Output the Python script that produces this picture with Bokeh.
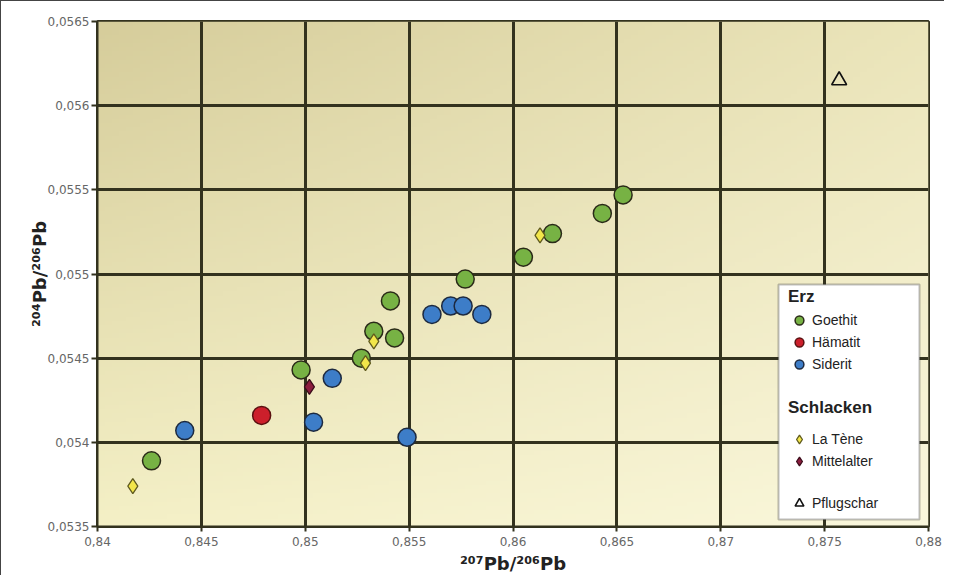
import numpy as np
from bokeh.plotting import figure
from bokeh.models import Range1d, FixedTicker, Legend, LegendItem, BoxAnnotation
from bokeh.embed import file_html
from bokeh.resources import INLINE

# ---- data ----
x_ticks = [0.84, 0.845, 0.85, 0.855, 0.86, 0.865, 0.87, 0.875, 0.88]
x_tick_labels = ["0,84", "0,845", "0,85", "0,855", "0,86", "0,865", "0,87", "0,875", "0,88"]
y_ticks = [0.0535, 0.054, 0.0545, 0.055, 0.0555, 0.056, 0.0565]
y_tick_labels = ["0,0535", "0,054", "0,0545", "0,055", "0,0555", "0,056", "0,0565"]

goethit_x = [0.8426, 0.8498, 0.8527, 0.8533, 0.8543, 0.8541, 0.8577, 0.8605, 0.8619, 0.8643, 0.8653]
goethit_y = [0.05389, 0.05443, 0.05450, 0.05466, 0.05462, 0.05484, 0.05497, 0.05510, 0.05524, 0.05536, 0.05547]
haematit_x = [0.8479]
haematit_y = [0.05416]
siderit_x = [0.8442, 0.8504, 0.8513, 0.8549, 0.8561, 0.8570, 0.8576, 0.8585]
siderit_y = [0.05407, 0.05412, 0.05438, 0.05403, 0.05476, 0.05481, 0.05481, 0.05476]
latene_x = [0.8417, 0.8529, 0.8533, 0.8613]
latene_y = [0.05374, 0.05447, 0.05460, 0.05523]
mittelalter_x = [0.8502]
mittelalter_y = [0.05433]
pflugschar_x = [0.8757]
pflugschar_y = [0.05615]

x_label = "²⁰⁷Pb/²⁰⁶Pb"
y_label = "²⁰⁴Pb/²⁰⁶Pb"

# ---- figure ----
p = figure(width=944, height=575, output_backend="svg", toolbar_location=None,
           x_range=Range1d(x_ticks[0], x_ticks[-1]), y_range=Range1d(y_ticks[0], y_ticks[-1]),
           min_border_left=96, min_border_right=17, min_border_top=20, min_border_bottom=49,
           background_fill_color="#f3eec8", border_fill_color="white")
p.styles = {"border-top": "1px solid #444", "border-left": "1px solid #444"}

# background gradient (style only)
n = 120
u = np.linspace(0, 1, n)[None, :]          # left -> right
v = np.linspace(0, 1, n)[:, None]          # bottom -> top
tl = np.array([214, 205, 155]); tr = np.array([235, 229, 186])
bl = np.array([244, 240, 198]); br = np.array([250, 247, 220])
col = (bl[None, None, :] * (1 - u)[..., None] * (1 - v)[..., None]
       + br[None, None, :] * u[..., None] * (1 - v)[..., None]
       + tl[None, None, :] * (1 - u)[..., None] * v[..., None]
       + tr[None, None, :] * u[..., None] * v[..., None])
img = np.empty((n, n), dtype=np.uint32)
view = img.view(dtype=np.uint8).reshape((n, n, 4))
view[:, :, :3] = col.astype(np.uint8)
view[:, :, 3] = 255
p.image_rgba(image=[img], x=x_ticks[0], y=y_ticks[0],
             dw=x_ticks[-1] - x_ticks[0], dh=y_ticks[-1] - y_ticks[0], level="image")

# grid / frame
grid_col = "#33321e"
for g in (p.xgrid, p.ygrid):
    g.grid_line_color = grid_col
    g.grid_line_width = 3
    g.grid_line_alpha = 1
p.xgrid.ticker = FixedTicker(ticks=x_ticks)
p.ygrid.ticker = FixedTicker(ticks=y_ticks)
p.outline_line_color = grid_col
p.outline_line_width = 3
p.outline_line_alpha = 1

# axes
p.xaxis.ticker = FixedTicker(ticks=x_ticks)
p.yaxis.ticker = FixedTicker(ticks=y_ticks)
p.xaxis.major_label_overrides = dict(zip(x_ticks, x_tick_labels))
p.yaxis.major_label_overrides = dict(zip(y_ticks, y_tick_labels))
for ax in (p.xaxis[0], p.yaxis[0]):
    ax.axis_line_color = grid_col
    ax.axis_line_width = 2
    ax.major_tick_line_color = grid_col
    ax.major_tick_line_width = 2
    ax.major_tick_in = 0
    ax.minor_tick_line_color = None
    ax.major_label_text_font = "DejaVu Sans"
    ax.major_label_text_font_size = "12px"
    ax.major_label_text_color = "#666666"
    ax.axis_label_text_font = "DejaVu Sans"
    ax.axis_label_text_font_style = "bold"
    ax.axis_label_text_font_size = "18px"
    ax.axis_label_text_color = "#222222"
p.xaxis.major_tick_out = 5
p.yaxis.major_tick_out = 6
p.xaxis.major_label_standoff = 5
p.yaxis.major_label_standoff = 2
p.xaxis.axis_label = x_label
p.yaxis.axis_label = y_label
p.xaxis.axis_label_standoff = 4
p.yaxis.axis_label_standoff = -5

# points
edge = "#2a2a18"
r_goe = p.scatter(goethit_x, goethit_y, marker="circle", size=18, fill_color="#77b244",
                  line_color=edge, line_width=1.5)
r_hae = p.scatter(haematit_x, haematit_y, marker="circle", size=18, fill_color="#cc1f2b",
                  line_color="#5a1010", line_width=1.5)
r_sid = p.scatter(siderit_x, siderit_y, marker="circle", size=18, fill_color="#3d7dc8",
                  line_color="#1d2a40", line_width=1.5)
r_lat = p.scatter(latene_x, latene_y, marker="diamond", size=15, fill_color="#f2e64a",
                  line_color="#5f5a1e", line_width=1.3)
r_mit = p.scatter(mittelalter_x, mittelalter_y, marker="diamond", size=15, fill_color="#8c1d3e",
                  line_color="#3a0c1a", line_width=1.3)
r_pfl = p.scatter(pflugschar_x, pflugschar_y, marker="triangle", size=15, fill_color=None,
                  line_color="#111111", line_width=1.6)

# legend frame (screen units relative to frame)
box = BoxAnnotation(left=681, right=822, bottom=7, top=242,
                    left_units="screen", right_units="screen",
                    bottom_units="screen", top_units="screen",
                    fill_color="white", fill_alpha=1, line_color="#222222", line_width=2)
p.add_layout(box)


def mk_legend(items, title, loc, standoff):
    kw = dict(items=items, location=loc, orientation="vertical",
              border_line_color=None, background_fill_alpha=0, padding=0, margin=0,
              spacing=0, glyph_width=22, glyph_height=22, label_height=22, label_standoff=2,
              label_text_font="Liberation Sans", label_text_font_size="14px",
              label_text_color="#222222",
              title_text_font="Liberation Sans", title_text_font_style="bold",
              title_text_font_size="17px", title_text_color="#222222",
              title_standoff=standoff, click_policy="none")
    if title:
        kw["title"] = title
    lg = Legend(**kw)
    p.add_layout(lg, "center")


mk_legend([LegendItem(label="Goethit", renderers=[r_goe]),
           LegendItem(label="Hämatit", renderers=[r_hae]),
           LegendItem(label="Siderit", renderers=[r_sid])], "Erz", (691, 151), 2)
mk_legend([LegendItem(label="La Tène", renderers=[r_lat]),
           LegendItem(label="Mittelalter", renderers=[r_mit])], "Schlacken", (691, 54), 10)
mk_legend([LegendItem(label="Pflugschar", renderers=[r_pfl])], None, (691, 12), 0)

open("out.html", "w").write(file_html(p, INLINE))
